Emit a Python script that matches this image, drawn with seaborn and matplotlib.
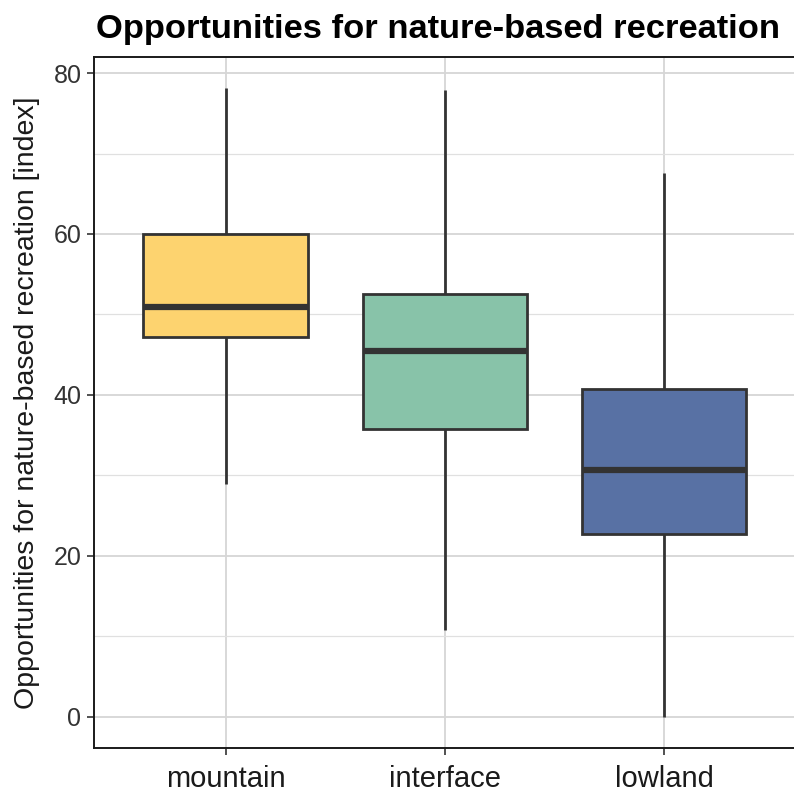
import numpy as np
import pandas as pd
import matplotlib
matplotlib.use("Agg")
import matplotlib.pyplot as plt
from matplotlib.ticker import MultipleLocator
import seaborn as sns

# Five-number summaries per landscape zone: min, Q1, median, Q3, max
zones = ["mountain", "interface", "lowland"]
mountain = [28.9, 47.2, 50.9, 60.0, 78.1]
interface = [10.8, 35.7, 45.5, 52.5, 77.9]
lowland = [0.0, 22.7, 30.7, 40.7, 67.6]
zone_colors = ["#FDD36F", "#88C3A9", "#5871A4"]
y_ticks = [0, 20, 40, 60, 80]

df = pd.DataFrame({
    "zone": np.repeat(zones, 5),
    "value": mountain + interface + lowland,
})

sns.set_style("white")
plt.rcParams["font.family"] = ["Liberation Sans", "DejaVu Sans"]

fig = plt.figure(figsize=(7.94, 7.92), dpi=100)
ax = fig.add_axes([94 / 794, 1 - 748 / 792, 1 - 94 / 794 + 0.002, (748 - 57) / 792])

sns.boxplot(
    data=df, x="zone", y="value", hue="zone", order=zones, hue_order=zones,
    palette=zone_colors, width=0.75, whis=(0, 100), linecolor="#333333",
    linewidth=2.0, saturation=1, legend=False, ax=ax,
    medianprops={"linewidth": 4.5, "color": "#333333", "zorder": 5},
    capprops={"linewidth": 0},
)

ax.set_xlim(-0.6, 2.6)
ax.set_ylim(-3.9, 82.0)
ax.set_yticks(y_ticks)
ax.yaxis.set_minor_locator(MultipleLocator(10))
ax.grid(True, which="major", color="#d6d6d6", linewidth=1.3, zorder=0)
ax.grid(True, which="minor", axis="y", color="#e0e0e0", linewidth=0.9, zorder=0)
ax.set_axisbelow(True)

for side in ["left", "bottom", "top"]:
    ax.spines[side].set_color("#1a1a1a")
    ax.spines[side].set_linewidth(1.4)
ax.spines["right"].set_visible(False)

ax.tick_params(axis="both", which="major", length=5, width=1.2, color="#333333",
               left=True, bottom=True)
ax.tick_params(axis="y", which="minor", length=0)
ax.tick_params(axis="y", labelsize=18, labelcolor="#333333", pad=4)
ax.tick_params(axis="x", labelsize=21, labelcolor="#1a1a1a", pad=7)

ax.set_xlabel("")
ax.set_ylabel("Opportunities for nature-based recreation [index]", fontsize=20.5,
              color="#1a1a1a", labelpad=10)
ax.set_title("Opportunities for nature-based recreation", fontsize=24.8,
             fontweight="bold", color="#000000", pad=14, x=0.49)

fig.savefig("out.png", dpi=100)
